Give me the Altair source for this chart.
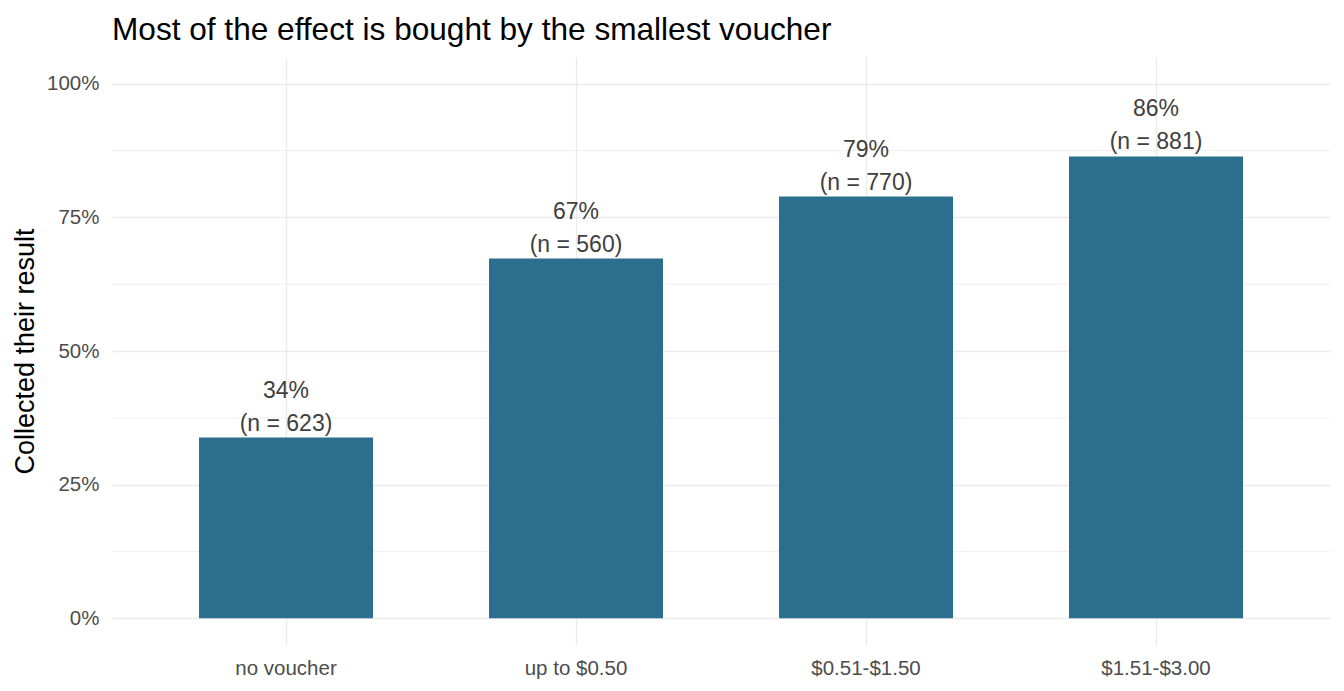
import altair as alt
import pandas as pd

categories = ["no voucher", "up to $0.50", "$0.51-$1.50", "$1.51-$3.00"]
share = [0.338, 0.673, 0.789, 0.864]
counts = [623, 560, 770, 881]
minor_breaks = [0.125, 0.375, 0.625, 0.875]

df = pd.DataFrame({"voucher": categories, "share": share, "n": counts})
df["pct_label"] = [f"{round(s * 100)}%" for s in share]
df["n_label"] = [f"(n = {c})" for c in counts]
minor = pd.DataFrame({"share": minor_breaks})

FONT = "Liberation Sans"
GRID = "#ebebeb"
W, H = 1218, 588

y_scale = alt.Scale(domain=[-0.05, 1.05], nice=False, zero=False)
y_axis = alt.Axis(
    values=[0, 0.25, 0.5, 0.75, 1.0], format=".0%", domain=False,
    ticks=False, tickSize=0, grid=True, gridColor=GRID, gridWidth=1.4,
    labelFontSize=20.5, labelColor="#4d4d4d", labelFont=FONT,
    labelPadding=13,
    title="Collected their result", titleFont=FONT, titleFontSize=27,
    titleFontWeight="normal", titleColor="black", titleX=-79,
    titleY=H / 2, titleAngle=-90, titleAlign="center",
    titleBaseline="alphabetic",
)
x_enc = alt.X(
    "voucher:N",
    sort=categories,
    title=None,
    scale=alt.Scale(paddingInner=0.4, paddingOuter=0.3),
    axis=alt.Axis(
        labelAngle=0, ticks=False, tickSize=0, domain=False, grid=True,
        gridColor=GRID, gridWidth=1.4, bandPosition=0.5,
        labelBaseline="alphabetic", labelPadding=29, labelFontSize=20.5,
        labelColor="#4d4d4d", labelFont=FONT,
    ),
)
y_enc = alt.Y("share:Q", scale=y_scale, axis=y_axis)

minor_grid = alt.Chart(minor).mark_rule(color=GRID, strokeWidth=0.7).encode(
    y=y_enc,
    x=alt.value(0),
    x2=alt.value(W),
)

bars = alt.Chart(df).mark_bar(color="#2c6e8d").encode(
    x=x_enc,
    y=y_enc,
    y2=alt.datum(0),
)

pct_text = alt.Chart(df).mark_text(
    font=FONT, fontSize=23, color="#404040", baseline="alphabetic", dy=-40
).encode(x=x_enc, y=y_enc, text="pct_label:N")

n_text = alt.Chart(df).mark_text(
    font=FONT, fontSize=23, color="#404040", baseline="alphabetic", dy=-7
).encode(x=x_enc, y=y_enc, text="n_label:N")

chart = (
    alt.layer(minor_grid, bars, pct_text, n_text)
    .properties(
        width=W,
        height=H,
        autosize=alt.AutoSizeParams(type="none"),
        padding={"left": 104, "top": 49, "right": 2, "bottom": 36},
        title=alt.TitleParams(
            "Most of the effect is bought by the smallest voucher",
            anchor="start", frame="group", font=FONT, fontSize=31.6,
            fontWeight="normal", color="black", baseline="alphabetic",
            offset=19, dy=34,
        ),
    )
    .configure_view(stroke=None)
)

chart.save("out.html", embed_options={"renderer": "svg", "actions": False})
